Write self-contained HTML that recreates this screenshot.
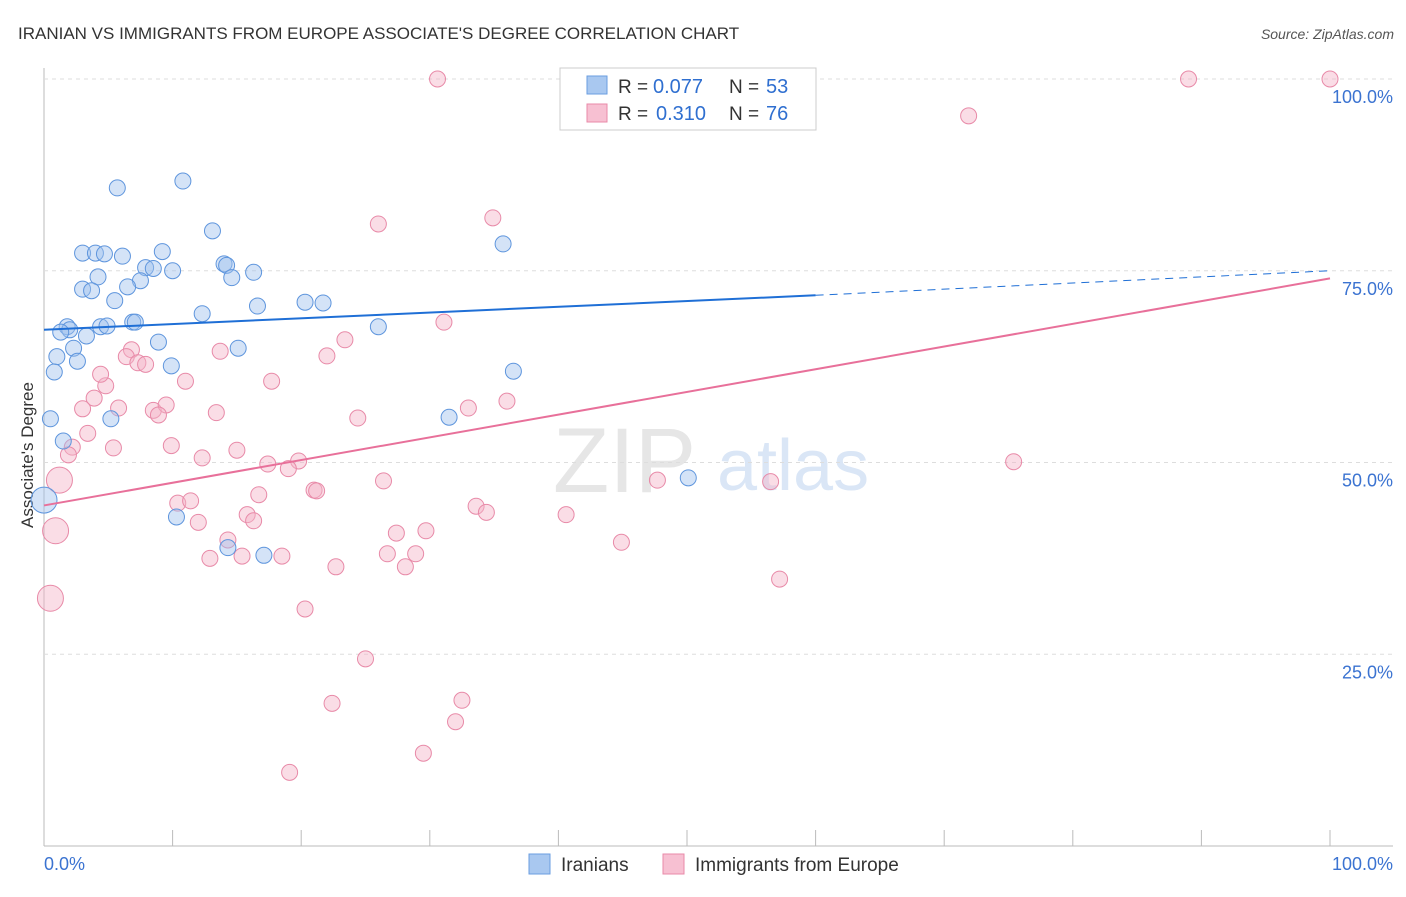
<!DOCTYPE html>
<html><head><meta charset="utf-8"><style>
body{margin:0;background:#fff;font-family:"Liberation Sans",sans-serif}
svg text{font-family:"Liberation Sans",sans-serif}
</style></head><body>
<svg id="c" width="1406" height="892">
<text x="18" y="39" font-size="17" fill="#333">IRANIAN VS IMMIGRANTS FROM EUROPE ASSOCIATE'S DEGREE CORRELATION CHART</text>
<text x="1394" y="39" font-size="14" font-style="italic" fill="#555" text-anchor="end">Source: ZipAtlas.com</text>
<text transform="translate(33,455) rotate(-90)" font-size="17" fill="#333" text-anchor="middle">Associate's Degree</text>
<g><text x="553" y="492" font-size="92" font-family="Liberation Serif" fill="#e6e6e6">ZIP</text><text x="717" y="490" font-size="72" fill="#dae6f6">atlas</text></g>
<g id="grid"></g><g id="marks"></g>
<g>
<rect x="560" y="68" width="256" height="62" fill="#fff" stroke="#ccc"/>
<rect x="587" y="76" width="20" height="18" fill="#a9c8f0" stroke="#6a9ee0"/>
<rect x="587" y="104" width="20" height="18" fill="#f7c0d2" stroke="#e88aa8"/>
<text x="618" y="93" font-size="19" fill="#333">R =</text>
<text x="653" y="93" font-size="20" fill="#2f6fd0">0.077</text>
<text x="729" y="93" font-size="19" fill="#333">N =</text>
<text x="766" y="93" font-size="20" fill="#2f6fd0">53</text>
<text x="618" y="120" font-size="19" fill="#333">R =</text>
<text x="656" y="120" font-size="20" fill="#2f6fd0">0.310</text>
<text x="729" y="120" font-size="19" fill="#333">N =</text>
<text x="766" y="120" font-size="20" fill="#2f6fd0">76</text>
</g>
<g>
<rect x="529" y="854" width="21" height="20" fill="#a9c8f0" stroke="#6a9ee0"/>
<text x="561" y="871" font-size="19" fill="#333">Iranians</text>
<rect x="663" y="854" width="21" height="20" fill="#f7c0d2" stroke="#e88aa8"/>
<text x="695" y="871" font-size="19" fill="#333">Immigrants from Europe</text>
</g>
</svg>
<script>
const yTicks=[25,50,75,100];
const xTickLabels=["0.0%","100.0%"];
const blueX=[5.7,10.8,13.1,3.0,4.0,4.7,6.1,9.2,7.9,8.5,10.0,14.0,14.2,16.3,14.6,4.2,7.5,3.0,3.7,6.5,5.5,20.3,21.7,16.6,12.3,6.9,7.1,1.8,2.0,4.4,4.9,1.3,3.3,26.0,8.9,2.3,15.1,1.0,2.6,9.9,0.8,36.5,35.7,0.5,5.2,31.5,1.5,50.1,0,10.3,14.3,17.1,54.5];
const blueY=[85.8,86.7,80.2,77.3,77.3,77.2,76.9,77.5,75.4,75.3,75.0,75.9,75.7,74.8,74.1,74.2,73.7,72.6,72.4,72.9,71.1,70.9,70.8,70.4,69.4,68.3,68.3,67.7,67.3,67.7,67.8,67.0,66.5,67.7,65.7,64.9,64.9,63.8,63.2,62.6,61.8,61.9,78.5,55.7,55.7,55.9,52.8,48.0,45.1,42.9,38.9,37.9,100];
const blueBig=[48];
const pinkX=[30.6,89.0,100,71.9,26.0,34.9,31.1,23.4,22.0,13.7,6.8,6.4,7.3,7.9,4.8,4.4,11.0,17.7,3.9,3.0,5.8,8.5,9.5,8.9,13.4,24.4,33.0,36.0,3.4,5.4,2.2,1.9,9.9,15.0,12.3,17.4,19.8,19.0,21.0,21.2,16.7,26.4,1.2,0.9,10.4,11.4,15.8,16.3,12.0,33.6,34.4,40.6,47.7,56.5,75.4,29.7,27.4,44.9,14.3,12.9,15.4,18.5,26.7,28.9,22.7,28.1,57.2,0.5,20.3,25.0,32.5,22.4,32.0,29.5,19.1];
const pinkY=[100,100,100,95.2,81.1,81.9,68.3,66.0,63.9,64.5,64.7,63.8,63.0,62.8,60.0,61.5,60.6,60.6,58.4,57.0,57.1,56.8,57.5,56.2,56.5,55.8,57.1,58.0,53.8,51.9,52.0,51.0,52.2,51.6,50.6,49.8,50.2,49.2,46.4,46.3,45.8,47.6,47.7,41.1,44.7,45.0,43.2,42.4,42.2,44.3,43.5,43.2,47.7,47.5,50.1,41.1,40.8,39.6,39.9,37.5,37.8,37.8,38.1,38.1,36.4,36.4,34.8,32.3,30.9,24.4,19.0,18.6,16.2,12.1,9.6];
const pinkBig=[42,43,67];
const blueTrend=[67.3,71.8,75.0];
const pinkTrend=[44.4,74.0];
const sx=v=>44+v*12.86, sy=v=>846-v*7.67;
const NS="http://www.w3.org/2000/svg";
function mk(t,a,p){const e=document.createElementNS(NS,t);for(const k in a)e.setAttribute(k,a[k]);p.appendChild(e);return e;}
const g=document.getElementById('grid'), m=document.getElementById('marks');
mk('line',{x1:44,y1:68,x2:44,y2:846,stroke:'#bbb'},g);
mk('line',{x1:44,y1:846,x2:1393,y2:846,stroke:'#bbb'},g);
for(let i=1;i<=10;i++){const t=mk('line',{x1:sx(i*10),y1:830,x2:sx(i*10),y2:846,stroke:'#bbb'},g);

}
yTicks.forEach(v=>{const l=mk('line',{x1:44,y1:sy(v),x2:1393,y2:sy(v),stroke:'#ddd','stroke-dasharray':'4,4'},g);


const t=mk('text',{x:1393,y:sy(v)+24,'font-size':18,fill:'#3b73d1','text-anchor':'end'},g);t.textContent=v.toFixed(1)+'%';

});
const x0=mk('text',{x:44,y:870,'font-size':18,fill:'#3b73d1'},g);x0.textContent=xTickLabels[0];


const x1=mk('text',{x:1393,y:870,'font-size':18,fill:'#3b73d1','text-anchor':'end'},g);x1.textContent=xTickLabels[1];


function pts(X,Y,big,fill,stroke,name){X.forEach((x,i)=>{const r=big.includes(i)?13:8;
const c=mk('circle',{cx:sx(x),cy:sy(Y[i]),r:r,fill:fill,'fill-opacity':0.45,stroke:stroke,'stroke-width':1},m);

});}
pts(pinkX,pinkY,pinkBig,'#f5b3c8','#e88aa8','immigrants-europe-point');
pts(blueX,blueY,blueBig,'#9fc2ee','#5e95dd','iranians-point');
const bl=mk('line',{x1:sx(0),y1:sy(blueTrend[0]),x2:sx(60),y2:sy(blueTrend[1]),stroke:'#1f6fd6','stroke-width':2},m);


const bd=mk('line',{x1:sx(60),y1:sy(blueTrend[1]),x2:sx(100),y2:sy(blueTrend[2]),stroke:'#1f6fd6','stroke-width':1,'stroke-dasharray':'8,6'},m);


const pl=mk('line',{x1:sx(0),y1:sy(pinkTrend[0]),x2:sx(100),y2:sy(pinkTrend[1]),stroke:'#e8709a','stroke-width':2},m);


</script>
</body></html>
